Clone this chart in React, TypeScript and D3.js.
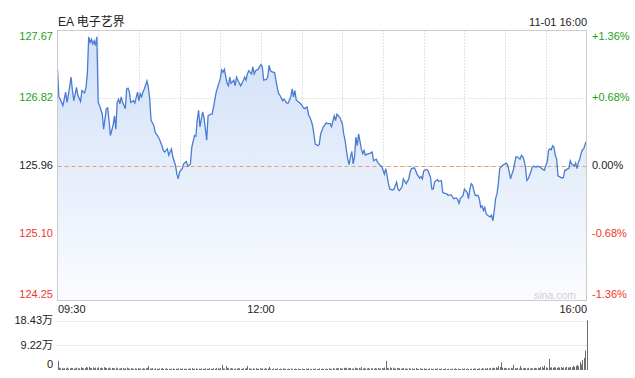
import React from 'react';
import * as d3 from 'd3';

// minutes since 09:30 for each sampled price
const minutes = [0,1,2,4,6,7,8,10,11,12,14,15,17,18,20,21,22,23,24,25,26,27,28,29,30,31,33,34,36,37,38,39,41,42,43,44,45,46,47,48,50,51,52,53,54,56,57,59,60,61,62,63,64,66,67,68,69,71,72,74,75,77,78,79,81,82,84,85,87,88,89,90,92,93,95,96,98,99,101,102,103,104,105,107,108,110,111,113,114,115,117,118,120,121,122,123,125,126,127,128,130,131,132,133,135,136,138,139,140,141,143,144,145,146,148,149,150,151,152,154,155,156,157,159,160,162,163,164,166,167,169,170,172,173,174,175,176,178,180,181,182,184,185,187,188,189,190,192,193,194,196,197,198,199,201,202,204,205,206,207,208,210,211,212,213,214,215,216,217,218,219,220,221,222,224,225,226,227,229,230,232,233,235,236,238,239,240,241,242,243,244,245,247,248,250,251,252,254,255,256,257,259,260,261,263,264,265,267,268,269,270,272,273,275,276,277,278,280,281,283,284,285,287,288,290,291,292,294,295,296,297,299,300,302,303,304,305,306,307,308,310,311,312,313,314,315,316,317,319,320,321,322,323,324,325,326,327,328,330,331,332,333,334,335,336,338,339,341,342,343,344,345,346,347,349,350,351,353,354,356,357,359,360,361,362,363,364,365,366,367,368,369,371,372,373,374,375,376,377,378,379,380,381,382,383,384,385,386,387,388,389,390];

const prices = [127.18,126.83,126.80,126.72,126.89,126.76,126.85,127.08,126.91,126.78,126.95,126.85,126.77,126.91,126.88,126.95,127.12,127.59,127.52,127.56,127.50,127.54,127.48,127.59,126.76,126.72,126.61,126.42,126.68,126.69,126.53,126.34,126.47,126.59,126.42,126.76,126.80,126.74,126.83,126.76,126.68,126.93,126.94,126.89,126.76,126.78,126.75,126.89,126.78,126.87,126.83,126.89,126.93,127.03,126.95,126.80,126.53,126.47,126.38,126.33,126.30,126.21,126.15,126.13,126.17,126.09,126.17,126.07,125.96,125.85,125.79,125.88,125.92,125.98,126.01,125.95,125.98,126.19,126.34,126.33,126.53,126.66,126.45,126.64,126.57,126.28,126.59,126.61,126.61,126.70,126.89,126.95,127.06,127.17,127.14,127.18,127.00,126.97,127.08,127.00,127.04,126.97,127.08,127.04,126.97,127.00,127.08,127.04,127.12,127.16,127.12,127.21,127.12,127.16,127.18,127.21,127.24,127.21,127.04,127.05,127.08,127.23,127.16,127.14,127.14,126.95,126.87,126.85,126.78,126.80,126.75,126.75,126.83,126.93,126.83,126.91,126.79,126.76,126.73,126.70,126.68,126.70,126.61,126.53,126.47,126.36,126.23,126.21,126.23,126.36,126.45,126.47,126.50,126.49,126.49,126.45,126.59,126.53,126.61,126.59,126.57,126.49,126.36,126.28,126.15,126.04,125.97,126.07,126.14,125.98,126.07,126.32,126.21,126.36,126.17,126.11,126.15,126.09,126.11,126.11,126.13,126.02,126.04,126.00,125.96,125.95,125.90,125.85,125.92,125.83,125.73,125.66,125.65,125.66,125.75,125.66,125.64,125.69,125.79,125.76,125.73,125.79,125.88,125.92,125.93,125.90,125.85,125.80,125.82,125.79,125.89,125.91,125.90,125.81,125.66,125.66,125.75,125.78,125.76,125.77,125.62,125.61,125.60,125.58,125.59,125.57,125.54,125.55,125.53,125.48,125.54,125.58,125.66,125.62,125.54,125.66,125.73,125.71,125.64,125.58,125.58,125.54,125.43,125.45,125.39,125.43,125.35,125.33,125.31,125.33,125.26,125.39,125.54,125.60,125.73,125.92,125.94,125.96,125.98,125.99,125.96,125.88,125.79,125.85,125.90,126.07,126.07,126.04,126.09,126.07,126.02,125.94,125.77,125.79,125.88,125.94,125.95,125.94,125.95,125.94,125.92,125.90,125.96,126.00,126.15,126.17,126.16,126.21,126.19,126.09,126.04,125.83,125.81,125.80,125.81,125.90,125.90,125.92,125.92,126.02,125.98,125.97,125.95,125.99,125.92,126.00,126.04,126.11,126.16,126.17,126.23,126.27];

// volume per minute, in 万 shares (minute 0..390)
const volumes = [
  3.4,0.9,0.6,0.8,0.5,0.7,0.6,0.9,0.5,0.6,0.8,0.7,0.5,0.6,0.9,0.7,0.6,1.0,0.8,0.6,0.7,1.1,0.9,1.2,0.8,0.7,1.0,0.6,0.9,0.8,
  1.0,0.7,0.9,0.6,1.1,0.8,0.7,0.6,0.9,0.5,0.8,0.7,0.6,0.9,0.7,0.5,0.6,0.8,0.7,0.5,0.6,0.9,0.6,0.5,0.7,0.6,0.4,0.6,0.5,0.7,
  0.5,0.6,0.4,0.7,0.5,0.6,0.8,1.5,0.6,0.5,0.7,0.4,0.6,0.5,0.4,0.6,0.5,0.7,0.4,0.5,0.6,0.4,0.5,0.3,0.5,0.6,0.4,0.5,0.4,0.6,
  0.5,0.4,0.6,0.5,0.3,0.5,0.4,0.6,0.5,0.7,0.4,0.5,0.6,0.4,0.5,0.3,0.6,0.5,0.4,0.6,0.5,0.4,0.7,0.5,0.4,0.6,0.5,0.8,0.6,0.5,
  0.7,1.9,0.6,0.5,1.5,0.8,0.6,0.5,0.7,0.6,0.4,0.6,0.5,0.7,0.6,0.4,0.5,0.6,0.5,0.7,1.5,0.6,0.5,0.4,0.6,0.5,0.7,0.4,0.5,0.6,
  0.5,0.6,0.4,0.7,0.5,0.6,1.1,0.5,0.4,0.6,0.5,0.4,0.6,0.3,0.5,0.4,0.6,0.5,0.4,0.3,0.5,0.4,0.6,0.4,0.3,0.5,0.4,0.5,0.3,0.4,
  0.5,0.4,0.3,0.5,0.4,0.6,0.4,0.3,0.5,0.4,0.5,0.3,0.4,0.6,0.4,0.5,0.3,0.4,0.5,0.4,0.6,0.5,0.4,0.7,0.5,0.6,0.8,0.6,0.7,0.5,
  0.6,0.8,0.7,0.9,0.6,0.8,0.7,0.5,0.6,0.9,0.7,0.6,0.8,0.5,1.1,0.6,0.7,0.5,0.6,0.8,0.5,0.7,0.6,0.5,0.7,0.6,0.8,0.5,0.6,0.7,
  0.6,0.9,3.4,0.8,0.6,1.0,0.7,0.9,0.6,0.5,0.8,0.6,0.7,0.5,0.6,0.8,0.5,0.6,0.4,0.7,0.5,0.6,0.4,0.5,0.7,0.5,0.4,0.6,0.5,0.4,
  0.6,0.4,0.5,0.4,0.6,0.5,0.4,0.3,0.5,0.4,0.6,0.5,0.4,0.5,0.3,0.4,0.6,0.4,0.5,0.4,0.3,0.5,0.4,0.6,0.4,0.5,0.3,0.4,0.5,0.4,
  0.6,0.4,0.5,0.4,0.3,0.5,0.4,0.6,0.5,0.4,0.5,0.6,0.4,0.7,0.5,0.6,0.5,0.7,0.6,0.8,0.6,0.9,0.7,1.0,0.8,1.5,1.1,2.9,0.9,0.7,
  0.8,0.6,0.7,0.5,0.8,0.6,1.9,0.7,0.6,0.8,0.5,1.5,0.7,0.6,0.8,0.7,0.6,0.8,0.5,0.7,0.6,0.8,0.7,0.6,0.9,0.7,1.1,1.3,0.8,1.7,
  1.0,0.8,4.1,0.9,1.0,0.8,1.1,0.9,0.8,1.0,0.9,1.1,0.8,1.0,0.9,1.2,1.0,0.9,1.1,1.0,1.5,1.2,1.5,1.9,1.4,3.0,2.1,3.7,4.5,7.2,
  18.43,
];

const priceTicks = [127.67, 126.82, 125.96, 125.10, 124.25];
const pctTicks = ['+1.36%', '+0.68%', '0.00%', '-0.68%', '-1.36%'];
const timeTicks = [0, 150, 390];
const timeLabels = ['09:30', '12:00', '16:00'];
const volTicks = [18.43, 9.22, 0];
const volLabels = ['18.43万', '9.22万', '0'];
const prevClose = 125.96;
const title = 'EA 电子艺界';
const stamp = '11-01 16:00';

const FONT = '"Liberation Sans", Arial, "Noto Sans CJK SC", sans-serif';

export default function App() {
  const L = 57.5, R = 586.5, T = 30.5, B = 300.5;
  const x = d3.scaleLinear().domain([0, 390]).range([L, R]);
  const y = d3.scaleLinear().domain([124.25, 127.67]).range([B, T]);
  const vy = d3.scaleLinear().domain([0, 18.43]).range([370, 320.5]);

  const pts = minutes.map((m, i) => [m, prices[i]] as [number, number]);
  const line = d3.line<[number, number]>().x(d => x(d[0])).y(d => y(d[1]));
  const area = d3.area<[number, number]>().x(d => x(d[0])).y0(B).y1(d => y(d[1]));

  const colorFor = (v: number) => (v > prevClose ? '#1ca21c' : v < prevClose ? '#f2362a' : '#222');
  const labelY = (i: number, yy: number) => (i === 0 ? yy + 6 : i === priceTicks.length - 1 ? yy - 6 : yy);

  const vgrid = d3.range(30, 390, 30);

  return (
    <svg width={635} height={378} style={{ position: 'absolute', left: 0, top: 0, background: '#fff' }} fontFamily={FONT}>
      <defs>
        <linearGradient id="fillg" gradientUnits="userSpaceOnUse" x1="0" y1={T} x2="0" y2={B}>
          <stop offset="0%" stopColor="#cfdff7" />
          <stop offset="100%" stopColor="#fbfcff" />
        </linearGradient>
      </defs>

      <text x={58} y={26} fontSize={12} fill="#222">{title}</text>
      <text x={587} y={26} fontSize={11} fill="#222" textAnchor="end">{stamp}</text>

      {/* grid */}
      {vgrid.map(m => (
        <line key={'v' + m} x1={Math.round(x(m)) + 0.5} x2={Math.round(x(m)) + 0.5} y1={T} y2={B} stroke="#c8c8c8" strokeDasharray="1,2" />
      ))}
      {[priceTicks[1], priceTicks[3], prevClose].map(v => (
        <line key={'h' + v} x1={L} x2={R} y1={Math.round(y(v)) + 0.5} y2={Math.round(y(v)) + 0.5} stroke="#c8c8c8" strokeDasharray="1,2" />
      ))}

      <path d={area(pts) || ''} fill="url(#fillg)" />
      <line x1={L} x2={R} y1={Math.round(y(prevClose)) + 0.5} y2={Math.round(y(prevClose)) + 0.5} stroke="#ec9a70" strokeDasharray="4,3" />
      <path d={line(pts) || ''} fill="none" stroke="#4a7cd2" strokeWidth={1.3} />

      <rect x={L} y={T} width={R - L} height={B - T} fill="none" stroke="#cccccc" />

      <text x={576} y={299} fontSize={10.5} fill="#cfcfcf" textAnchor="end">sina.com</text>

      {priceTicks.map((v, i) => (
        <text key={'l' + i} x={53} y={labelY(i, y(v))} dy="0.35em" fontSize={11} fill={colorFor(v)} textAnchor="end">{v.toFixed(2)}</text>
      ))}
      {pctTicks.map((t, i) => (
        <text key={'r' + i} x={592} y={labelY(i, y(priceTicks[i]))} dy="0.35em" fontSize={11} fill={colorFor(priceTicks[i])}>{t}</text>
      ))}

      {timeTicks.map((m, i) => (
        <text key={'t' + i} x={x(m) + (i === 0 ? 0.5 : i === timeTicks.length - 1 ? 0.5 : 0)} y={313} fontSize={11} fill="#222"
          textAnchor={i === 0 ? 'start' : i === timeTicks.length - 1 ? 'end' : 'middle'}>{timeLabels[i]}</text>
      ))}

      {/* volume panel */}
      {volTicks.slice(0, 2).map(v => (
        <line key={'vg' + v} x1={L} x2={R} y1={Math.round(vy(v)) + 0.5} y2={Math.round(vy(v)) + 0.5} stroke="#c8c8c8" strokeDasharray="1,2" />
      ))}
      {volumes.map((v, i) => (
        <line key={'b' + i} x1={Math.round(x(i)) + 0.5} x2={Math.round(x(i)) + 0.5} y1={370} y2={Math.min(369, vy(v))} stroke="#6e6e6e" strokeWidth={1} />
      ))}
      {volTicks.map((v, i) => (
        <text key={'vl' + i} x={53} y={i === volTicks.length - 1 ? vy(v) - 6 : vy(v)} dy="0.35em" fontSize={11} fill="#222" textAnchor="end">{volLabels[i]}</text>
      ))}
    </svg>
  );
}
